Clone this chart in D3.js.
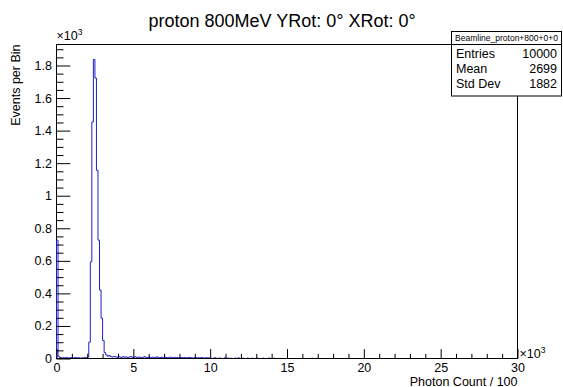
<!DOCTYPE html>
<html lang="en">
<head>
<meta charset="UTF-8">
<title>proton 800MeV YRot: 0° XRot: 0°</title>
<style>
  body { margin: 0; background: #fff; }
  svg { display: block; font-family: "Liberation Sans", Arial, sans-serif; }
</style>
</head>
<body>
<svg id="chart" width="563" height="387"></svg>
<script src="https://cdn.jsdelivr.net/npm/d3@7/dist/d3.min.js"></script>
<script>
// bin contents, bin width 100 starting at 0 (bins after the last entry are empty)
const binWidth = 100
const counts = [
  727, 14, 6, 4, 5, 3, 6, 4, 3, 5, 2, 4, 6, 3, 5, 2, 4, 3, 6, 5,
  9, 100, 594, 1453, 1837, 1723, 1156, 727, 420, 248, 110, 36, 22, 14, 18, 11, 9, 13, 10, 8,
  12, 9, 7, 11, 8, 10, 6, 9, 12, 7, 8, 10, 6, 9, 7, 5, 8, 11, 6, 7,
  9, 5, 8, 6, 7, 10, 5, 6, 8, 4, 9, 6, 5, 7, 8, 6, 5, 7, 6, 4,
  5, 6, 4, 6, 3, 5, 7, 5, 3, 4, 6, 3, 5, 4, 6, 4, 2, 5, 3, 4,
  2, 0, 3, 4, 0, 2, 3, 0, 0, 4, 0, 3, 0, 2, 0, 0, 3, 0, 4, 0,
  0, 2, 0, 0, 3, 0, 0, 2, 0, 0, 3, 0, 0, 0, 2, 0, 0, 0, 3, 0,
  0, 2, 0, 0, 0, 0, 0, 0, 0, 0, 0, 0, 0, 0, 0, 0, 0, 0, 0, 0,
  0, 0, 0, 0, 0, 0, 2, 0
]
const xMajor = [0, 5000, 10000, 15000, 20000, 25000, 30000]
const yMajor = [0, 200, 400, 600, 800, 1000, 1200, 1400, 1600, 1800]
const yMax = 1929
const title = "proton 800MeV YRot: 0° XRot: 0°"
const statsName = "Beamline_proton+800+0+0"
const statsRows = [["Entries", "10000"], ["Mean", "2699"], ["Std Dev", "1882"]]

let svg = d3.select("#chart")
let x = d3.scaleLinear().domain([0, 30000]).range([56.5, 517.5])
let y = d3.scaleLinear().domain([0, yMax]).range([358.5, 44.5])
let fmt = d => d3.format("~g")(d / 1000)

// frame
svg.append("rect")
    .attr("x", x(0)).attr("y", y(yMax))
    .attr("width", x(30000) - x(0)).attr("height", y(0) - y(yMax))
    .attr("fill", "none").attr("stroke", "#000")

// histogram outline
let pts = [[0, 0]]
counts.forEach((c, i) => pts.push([i * binWidth, c]))
pts.push([counts.length * binWidth, 0])
svg.append("path")
    .attr("d", d3.line().x(d => x(d[0])).y(d => y(d[1])).curve(d3.curveStepAfter)(pts))
    .attr("fill", "none")
    .attr("stroke", "#1f1fc4")
    .attr("stroke-width", 1)

// bottom axis line over the empty bins
svg.append("line")
    .attr("x1", x(0)).attr("x2", x(30000))
    .attr("y1", y(0)).attr("y2", y(0))
    .attr("stroke", "#000")

// x axis ticks (inside the frame)
let xMinor = d3.range(0, 30001, 1000).filter(v => v % 5000 != 0)
let xAxisG = svg.append("g").attr("transform", `translate(0,${y(0)})`)
xAxisG.call(d3.axisBottom(x).tickValues(xMinor).tickSize(-4.7).tickFormat(""))
xAxisG.append("g").call(d3.axisBottom(x).tickValues(xMajor).tickSize(-9.4).tickPadding(5).tickFormat(fmt))
xAxisG.selectAll(".domain").remove()
xAxisG.selectAll("text").attr("font-size", 12.5).attr("fill", "#000").attr("font-family", null)
    .attr("y", 13).attr("dy", null)

// y axis ticks
let yMinor = d3.range(0, yMax, 50).filter(v => v % 200 != 0)
let yAxisG = svg.append("g").attr("transform", `translate(${x(0)},0)`)
yAxisG.call(d3.axisLeft(y).tickValues(yMinor).tickSize(-7).tickFormat(""))
yAxisG.append("g").call(d3.axisLeft(y).tickValues(yMajor).tickSize(-13.8).tickPadding(4.5).tickFormat(fmt))
yAxisG.selectAll(".domain").remove()
yAxisG.selectAll("text").attr("font-size", 12.5).attr("fill", "#000").attr("font-family", null)

// exponent labels
function expLabel(px, py) {
    let t = svg.append("text").attr("x", px).attr("y", py).attr("font-size", 12.5)
    t.append("tspan").text("×10")
    t.append("tspan").text("3").attr("font-size", 8.5).attr("dy", -5)
}
expLabel(x(0), 40)
expLabel(x(30000) + 2, 358)

// axis titles
svg.append("text")
    .attr("x", x(30000)).attr("y", 385.5)
    .attr("text-anchor", "end").attr("font-size", 12.5)
    .text("Photon Count / 100")
svg.append("text")
    .attr("transform", `translate(19.5,${y(yMax)}) rotate(-90)`)
    .attr("text-anchor", "end").attr("font-size", 12.5)
    .text("Events per Bin")

// title
svg.append("text")
    .attr("x", 282).attr("y", 27)
    .attr("text-anchor", "middle").attr("font-size", 18)
    .text(title)

// stats box
let box = svg.append("g")
box.append("rect")
    .attr("x", 451.5).attr("y", 31.5).attr("width", 110).attr("height", 64.5)
    .attr("fill", "#fff").attr("stroke", "#000")
box.append("line")
    .attr("x1", 451.5).attr("x2", 561.5).attr("y1", 44.5).attr("y2", 44.5)
    .attr("stroke", "#000")
box.append("text")
    .attr("x", 506.5).attr("y", 41)
    .attr("text-anchor", "middle").attr("font-size", 8.5)
    .text(statsName)
statsRows.forEach((r, i) => {
    let by = 57.5 + i * 15.3
    box.append("text").attr("x", 456).attr("y", by).attr("font-size", 12.5).text(r[0])
    box.append("text").attr("x", 557).attr("y", by).attr("font-size", 12.5)
        .attr("text-anchor", "end").text(r[1])
})
</script>
</body>
</html>
